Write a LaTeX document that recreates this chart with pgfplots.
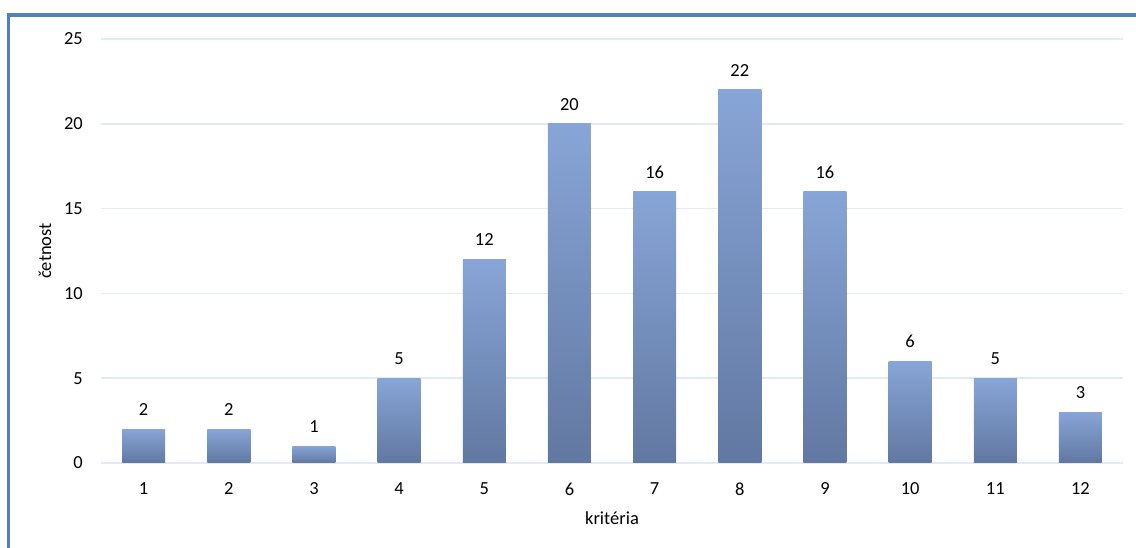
\documentclass[border=0pt]{standalone}
\usepackage{fontspec}
\setmainfont{Carlito}
\usepackage{pgfplots}
\pgfplotsset{compat=1.18}
\definecolor{frameblue}{RGB}{79,129,189}
\definecolor{gridc}{RGB}{225,234,246}
\definecolor{bartop}{RGB}{136,165,215}
\definecolor{barbot}{RGB}{97,120,161}
\newcommand{\tf}{\fontsize{18.5}{21}\selectfont}
\begin{document}
\begin{tikzpicture}[x=1bp,y=1bp]
\useasboundingbox (0,0) rectangle (1136,548);
\fill[white] (0,0) rectangle (1136,548);
\draw[frameblue, line width=3.5bp] (8.5,0) -- (8.5,533) -- (1136,533);
\begin{axis}[
  at={(101bp,85bp)}, anchor=south west,
  scale only axis, width=1022bp, height=424bp,
  xmin=0.5, xmax=12.5, ymin=0, ymax=25,
  xtick={1,...,12}, ytick={0,5,...,25},
  axis line style={draw=none}, major tick style={draw=none},
  ymajorgrids, grid style={gridc, line width=1.5bp},
  /pgf/number format/assume math mode=true,
  tick label style={font=\tf},
  xticklabel style={anchor=center, yshift=-26bp},
  yticklabel style={anchor=east, inner sep=0pt, xshift=-18bp},
  every axis y label/.style={at={(axis description cs:-0.0548,0.5)}, rotate=90, anchor=center, font=\tf},
  every axis x label/.style={at={(axis description cs:0.5,-0.1297)}, anchor=center, font=\tf},
  xlabel={kritéria}, ylabel={četnost},
  nodes near coords,
  every node near coord/.append style={anchor=center, yshift=19.5bp, font=\tf, text=black},
  bb/.style={ybar, bar width=43bp, bar shift=0pt, draw=none, top color=bartop, bottom color=barbot},
]
\addplot[bb] coordinates {(1,2)};
\addplot[bb] coordinates {(2,2)};
\addplot[bb] coordinates {(3,1)};
\addplot[bb] coordinates {(4,5)};
\addplot[bb] coordinates {(5,12)};
\addplot[bb] coordinates {(6,20)};
\addplot[bb] coordinates {(7,16)};
\addplot[bb] coordinates {(8,22)};
\addplot[bb] coordinates {(9,16)};
\addplot[bb] coordinates {(10,6)};
\addplot[bb] coordinates {(11,5)};
\addplot[bb] coordinates {(12,3)};
\end{axis}
\end{tikzpicture}
\end{document}
